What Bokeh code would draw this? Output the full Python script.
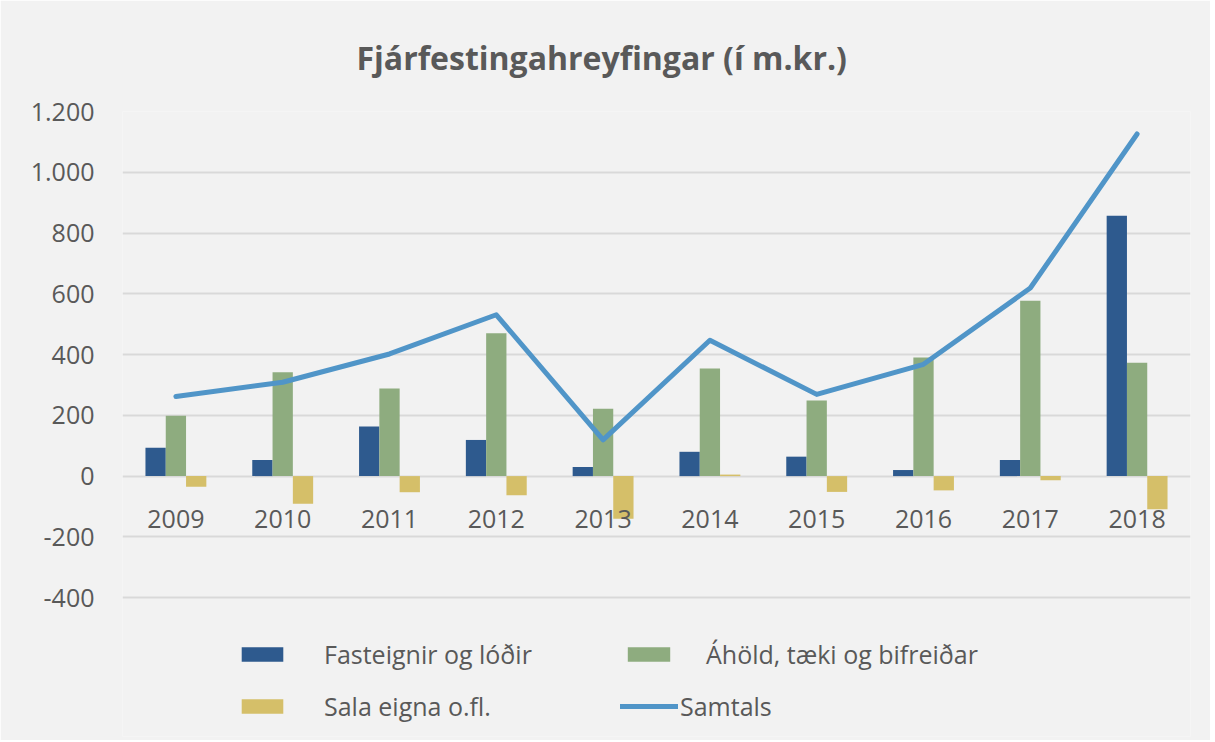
from bokeh.plotting import figure
from bokeh.models import (ColumnDataSource, FactorRange, FixedTicker, Legend, LegendItem)
from bokeh.core.properties import value
from bokeh.transform import dodge
from bokeh.embed import file_html
from bokeh.resources import INLINE

years = ["2009", "2010", "2011", "2012", "2013", "2014", "2015", "2016", "2017", "2018"]
fasteignir = [93, 53, 163, 119, 30, 80, 64, 20, 53, 857]
aholdd = [199, 342, 288, 470, 222, 354, 249, 390, 577, 373]
sala = [-35, -91, -53, -63, -140, 5, -52, -47, -14, -109]
samtals = [262, 309, 402, 531, 119, 447, 269, 368, 619, 1126]
y_ticks = [-400, -200, 0, 200, 400, 600, 800, 1000, 1200]
y_tick_labels = ["-400", "-200", "0", "200", "400", "600", "800", "1.000", "1.200"]

FONT = "Open Sans"
TXT = "#595959"
BG = "#f2f2f2"

src = ColumnDataSource(dict(years=years, f=fasteignir, a=aholdd, s=sala, t=samtals,
                            zero=[0] * len(years)))

p = figure(width=1210, height=740, x_range=FactorRange(*years), y_range=(-857, 1200),
           output_backend="svg", toolbar_location=None,
           min_border_left=122, min_border_right=20, min_border_top=110, min_border_bottom=4)
p.background_fill_color = BG
p.border_fill_color = BG
p.outline_line_color = None

p.title.text = "Fjárfestingahreyfingar (í m.kr.)"
p.title.align = "left"
p.title.offset = 234
p.title.text_font = FONT
p.title.text_font_size = "32px"
p.title.text_color = TXT
p.title.text_font_style = "bold"
p.title.text_line_height = 1.0
p.title.standoff = 66

w = 0.19
r1 = p.vbar(x=dodge("years", -w, range=p.x_range), top="f", bottom=0, width=w, source=src,
            fill_color="#2e5a8e", line_color=None)
r2 = p.vbar(x=dodge("years", 0, range=p.x_range), top="a", bottom=0, width=w, source=src,
            fill_color="#8eac7f", line_color=None)
r3 = p.vbar(x=dodge("years", w, range=p.x_range), top="s", bottom=0, width=w, source=src,
            fill_color="#d5bf69", line_color=None)
r4 = p.line(x="years", y="t", source=src, line_color="#5095c8", line_width=5,
            line_cap="round", line_join="round")

# category labels just below the zero line
p.text(x="years", y="zero", text="years", source=src, y_offset=43,
       text_align="center", text_baseline="middle", text_font=value(FONT),
       text_font_size="25px", text_color=TXT)

p.xaxis.visible = False
p.xgrid.grid_line_color = None
p.ygrid.grid_line_color = "#d9d9d9"
p.ygrid.grid_line_width = 2
p.yaxis.ticker = FixedTicker(ticks=y_ticks)
p.yaxis.major_label_overrides = {t: l for t, l in zip(y_ticks, y_tick_labels)}
ax = p.yaxis[0]
ax.axis_line_color = None
ax.major_tick_line_color = None
ax.minor_tick_line_color = None
ax.major_tick_out = 0
ax.major_tick_in = 0
ax.major_label_text_font = FONT
ax.major_label_text_font_size = "25px"
ax.major_label_text_color = TXT
ax.major_label_standoff = 28


def mk_leg(items, loc, standoff, gw):
    lg = Legend(items=items, location=loc, label_standoff=standoff, glyph_width=gw,
                glyph_height=18, label_text_font=FONT, label_text_font_size="25px",
                label_text_color=TXT, background_fill_alpha=0, border_line_color=None,
                padding=0, margin=0, spacing=18, label_height=30)
    p.add_layout(lg, "center")
    return lg


mk_leg([LegendItem(label="Fasteignir og lóðir", renderers=[r1]),
        LegendItem(label="Sala eigna o.fl.", renderers=[r3])], (114, 13), 36, 52)
mk_leg([LegendItem(label="Áhöld, tæki og bifreiðar", renderers=[r2])], (500, 65), 31, 53)
mk_leg([LegendItem(label="Samtals", renderers=[r4])], (498, 13), 2, 58)

open("out.html", "w").write(file_html(p, INLINE))
